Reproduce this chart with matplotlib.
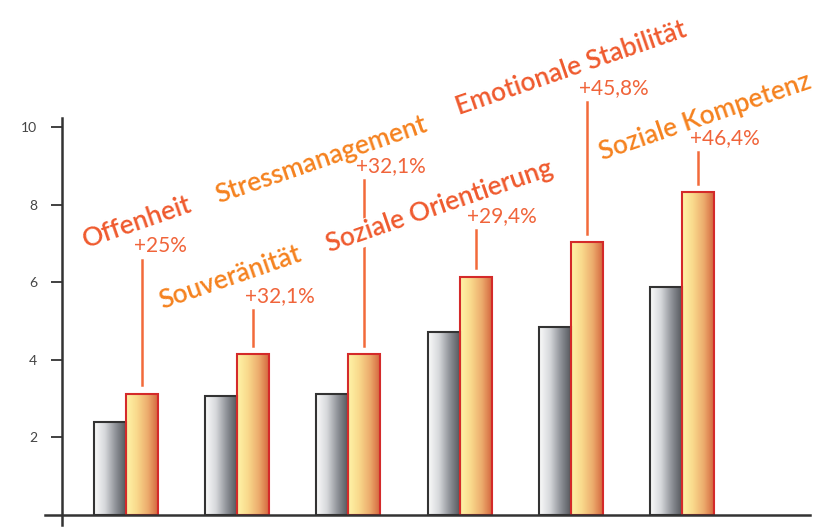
import matplotlib
matplotlib.use("Agg")
import matplotlib.pyplot as plt
import numpy as np
from matplotlib.colors import LinearSegmentedColormap

plt.rcParams['font.family'] = ['Lato', 'DejaVu Sans']

# data
categories = ['Offenheit', 'Souveränität', 'Stressmanagement',
              'Soziale Orientierung', 'Emotionale Stabilität', 'Soziale Kompetenz']
vorher = [2.4, 3.07, 3.12, 4.7, 4.85, 5.86]
nachher = [3.12, 4.13, 4.13, 6.14, 7.02, 8.31]
zuwachs = ['+25%', '+32,1%', '+32,1%', '+29,4%', '+45,8%', '+46,4%']
yticks = [2, 4, 6, 8, 10]

# layout (label centres and leader-line tops, in data units)
label_pos = [(0.10, 7.55), (0.94, 6.10), (1.76, 9.15), (2.82, 7.94), (4.0, 11.52), (5.21, 10.26)]
label_col = ['#ef5a2e', '#f5821f', '#f5821f', '#ef5a2e', '#ef5a2e', '#f5821f']
line_top = [6.56, 5.28, 8.63, 7.34, 10.65, 9.35]

gray_cm = LinearSegmentedColormap.from_list('g', ['#fbfbfb', '#d6d8db', '#8d9096', '#505358'])
orange_cm = LinearSegmentedColormap.from_list('o', ['#fff4a8', '#f9d98c', '#ecab6c', '#d2603a'])
grad = np.linspace(0, 1, 256).reshape(1, -1)

fig = plt.figure(figsize=(8.27, 5.29), dpi=100)
ax = fig.add_axes([0.075, 0.0274, 0.9045, 0.7325])

x = np.arange(len(categories))
w = 0.288
b1 = ax.bar(x - w / 2, vorher, w, facecolor='none', edgecolor='#333333', linewidth=1.5, zorder=3)
b2 = ax.bar(x + w / 2, nachher, w, facecolor='none', edgecolor='#d42a2a', linewidth=1.5, zorder=3)

for bars, cm in ((b1, gray_cm), (b2, orange_cm)):
    for p in bars:
        x0, y0 = p.get_x(), p.get_y()
        ax.imshow(grad, cmap=cm, aspect='auto', extent=(x0, x0 + p.get_width(), y0, y0 + p.get_height()),
                  zorder=2, interpolation='bicubic')

# leader lines and percentages
for i in range(len(categories)):
    xc = x[i] + w / 2
    ax.plot([xc, xc], [nachher[i] + 0.22, line_top[i]], color='#f26a3a', lw=1.8, zorder=4, clip_on=False)
    ax.annotate(zuwachs[i], (xc, line_top[i]), xytext=(-6, 3), textcoords='offset points',
                ha='left', va='bottom', fontsize=15, color='#f0643a', zorder=6, annotation_clip=False)

# category labels
for i, name in enumerate(categories):
    lx, ly = label_pos[i]
    ax.text(lx, ly, name, rotation=19, rotation_mode='anchor', ha='center', va='center',
            fontsize=19, fontweight='semibold', color=label_col[i], zorder=5,
            bbox=dict(facecolor='white', edgecolor='none', pad=1))

ax.set_xlim(-0.576, 6.151)
ax.set_ylim(0, 10)
for s in ax.spines.values():
    s.set_visible(False)
ax.plot([-0.023, 1.0], [0, 0], transform=ax.transAxes, color='#333333', lw=1.8, clip_on=False, zorder=7)
ax.plot([0, 0], [-0.027, 1.023], transform=ax.transAxes, color='#333333', lw=1.8, clip_on=False, zorder=7)

ax.set_xticks([])
ax.set_yticks(yticks)
ax.set_yticklabels([str(t) for t in yticks])
ax.tick_params(axis='y', direction='out', length=8, width=1.3, color='#333333',
               labelcolor='#444444', labelsize=10, pad=10)

fig.savefig('out.png', dpi=100)
